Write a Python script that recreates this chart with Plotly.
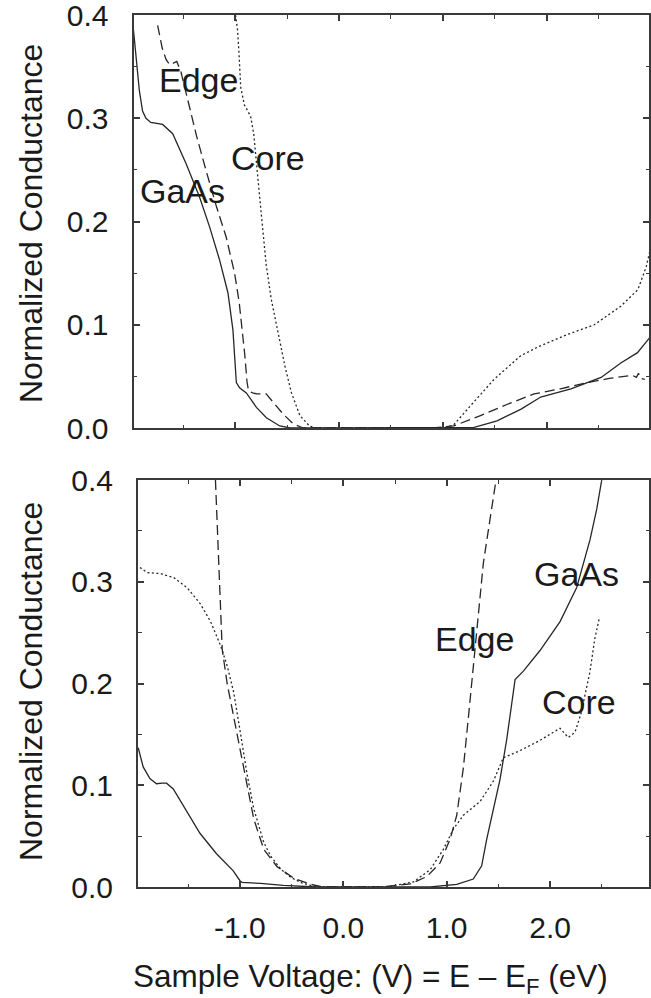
import plotly.graph_objects as go

# ---------------- data: panel (a) Sb-terminated ----------------
a_gaas_v = [-1.99, -1.953, -1.92, -1.889, -1.856, -1.81, -1.75, -1.696, -1.599, -1.47, -1.342, -1.245,
            -1.149, -1.068, -1.02, -1.0, -0.987, -0.956, -0.891, -0.794, -0.698, -0.57, -0.47, 0.0, 0.5,
            1.0, 1.30, 1.52, 1.747, 1.94, 2.23, 2.52, 2.71, 2.87, 3.0]
a_gaas_g = [0.40, 0.362, 0.327, 0.307, 0.300, 0.296, 0.295, 0.294, 0.285, 0.256, 0.224, 0.195,
            0.163, 0.131, 0.095, 0.060, 0.044, 0.039, 0.034, 0.020, 0.010, 0.002, 0.0, 0.0, 0.0,
            0.0, 0.0007, 0.007, 0.018, 0.030, 0.038, 0.049, 0.063, 0.073, 0.089]

a_edge_v = [-1.744, -1.70, -1.663, -1.63, -1.60, -1.56, -1.52, -1.45, -1.37, -1.28, -1.18, -1.085,
            -1.004, -0.96, -0.93, -0.905, -0.885, -0.87, -0.83, -0.79, -0.70, -0.633, -0.537, -0.44,
            -0.344, 0.0, 0.9, 1.103, 1.36, 1.62, 1.876, 2.13, 2.39, 2.6, 2.745, 2.82, 2.86, 2.88, 2.9, 2.94]
a_edge_g = [0.39, 0.368, 0.357, 0.352, 0.353, 0.355, 0.345, 0.315, 0.283, 0.25, 0.215, 0.185,
            0.150, 0.122, 0.095, 0.070, 0.045, 0.036, 0.034, 0.033, 0.033, 0.025, 0.0135, 0.004,
            0.0, 0.0, 0.0, 0.002, 0.012, 0.023, 0.033, 0.038, 0.044, 0.048, 0.050, 0.051, 0.049, 0.053, 0.048, 0.047]

a_core_v = [-0.995, -0.975, -0.96, -0.945, -0.91, -0.85, -0.82, -0.79, -0.75, -0.70, -0.65, -0.585,
            -0.52, -0.457, -0.376, -0.28, -0.215, 1.0, 1.103, 1.264, 1.49, 1.747, 1.924, 2.197,
            2.455, 2.71, 2.874, 2.954, 3.0]
a_core_g = [0.40, 0.385, 0.36, 0.33, 0.313, 0.302, 0.285, 0.25, 0.21, 0.158, 0.124, 0.092,
            0.060, 0.034, 0.012, 0.0016, 0.0, 0.0, 0.003, 0.0215, 0.047, 0.070, 0.079, 0.0906,
            0.100, 0.118, 0.134, 0.156, 0.176]

# ---------------- data: panel (b) As-terminated ----------------
b_gaas_v = [-1.983, -1.935, -1.870, -1.806, -1.75, -1.709, -1.644, -1.515, -1.386, -1.226, -1.064, -0.999,
            -0.98, -0.80, -0.58, -0.26, 0.84, 1.097, 1.257, 1.338, 1.387, 1.451, 1.515, 1.58, 1.661,
            1.741, 1.902, 2.096, 2.257, 2.386, 2.451, 2.499]
b_gaas_g = [0.137, 0.118, 0.1065, 0.1015, 0.102, 0.102, 0.0964, 0.0746, 0.0528, 0.0327, 0.0159, 0.0062,
            0.0046, 0.0035, 0.0015, 0.0, 0.0, 0.0026, 0.0078, 0.0208, 0.047, 0.0763, 0.1056, 0.1447, 0.2038,
            0.2122, 0.2324, 0.2608, 0.2944, 0.3414, 0.3716, 0.40]

b_edge_v = [-1.236, -1.203, -1.171, -1.123, -1.059, -0.994, -0.93, -0.866, -0.769, -0.64, -0.48, -0.319,
            -0.19, 0.357, 0.647, 0.808, 0.936, 1.033, 1.097, 1.161, 1.21, 1.258, 1.306, 1.354, 1.403,
            1.451, 1.477]
b_edge_g = [0.40, 0.318, 0.234, 0.200, 0.167, 0.134, 0.100, 0.067, 0.037, 0.020, 0.0087, 0.0027,
            0.0, 0.0, 0.003, 0.0103, 0.0237, 0.047, 0.0705, 0.117, 0.167, 0.2175, 0.268, 0.318, 0.351,
            0.385, 0.40]

b_core_v = [-1.966, -1.895, -1.767, -1.638, -1.509, -1.38, -1.284, -1.188, -1.123, -1.059, -0.994, -0.93,
            -0.866, -0.769, -0.70, -0.60, -0.50, -0.40, -0.30, -0.20, 0.42, 0.679, 0.84, 0.968, 1.065,
            1.161, 1.322, 1.451, 1.547, 1.708, 1.90, 2.095, 2.175, 2.24, 2.30, 2.384, 2.432, 2.475]
b_core_g = [0.314, 0.309, 0.308, 0.304, 0.294, 0.278, 0.261, 0.2376, 0.2175, 0.191, 0.151, 0.1106,
            0.077, 0.0438, 0.030, 0.017, 0.009, 0.004, 0.001, 0.0, 0.0, 0.005, 0.017, 0.037, 0.057,
            0.0705, 0.084, 0.104, 0.127, 0.134, 0.144, 0.156, 0.147, 0.152, 0.171, 0.211, 0.244, 0.264]

x_tickvals = [-1.0, 0.0, 1.0, 2.0]
x_ticktext = ["-1.0", "0.0", "1.0", "2.0"]
x_minorvals = [-1.5, -0.5, 0.5, 1.5, 2.5]
y_tickvals = [0.0, 0.1, 0.2, 0.3, 0.4]
y_ticktext = ["0.0", "0.1", "0.2", "0.3", "0.4"]
y_minorvals = [0.05, 0.15, 0.25, 0.35]

y_title = "Normalized Conductance"
x_title = "Sample Voltage: (V) = E \u2013 E<sub>F</sub> (eV)"

# ---------------- figure ----------------
W, H = 651, 998
FONT = "Liberation Sans, Arial, sans-serif"
INK = "#1a1a1a"
LINE = "#262626"
FRAME = "#3a3a3a"

fig = go.Figure()

def add(v, g, dash, xa, ya, name):
    fig.add_trace(go.Scatter(x=v, y=g, mode="lines", name=name,
                             line=dict(color=LINE, width=1.3, dash=dash),
                             xaxis=xa, yaxis=ya, showlegend=False))

add(a_gaas_v, a_gaas_g, "solid", "x", "y", "GaAs")
add(a_edge_v, a_edge_g, "10px,5px", "x", "y", "Edge")
add(a_core_v, a_core_g, "2px,2.5px", "x", "y", "Core")
add(b_gaas_v, b_gaas_g, "solid", "x2", "y2", "GaAs")
add(b_edge_v, b_edge_g, "10px,5px", "x2", "y2", "Edge")
add(b_core_v, b_core_g, "2px,2.5px", "x2", "y2", "Core")

common_axis = dict(showline=True, linewidth=2, linecolor=FRAME, mirror="ticks",
                   ticks="inside", ticklen=6, tickwidth=1.5, tickcolor=FRAME,
                   showgrid=False, zeroline=False, ticklabeloverflow="allow",
                   tickfont=dict(size=30, color=INK, family=FONT))

xminor = dict(tickmode="array", tickvals=x_minorvals, ticks="inside", ticklen=3.5,
              tickwidth=1.3, tickcolor=FRAME, showgrid=False)
yminor = dict(tickmode="array", tickvals=y_minorvals, ticks="inside", ticklen=3.5,
              tickwidth=1.3, tickcolor=FRAME, showgrid=False)

fig.update_layout(
    width=W, height=H, margin=dict(l=0, r=0, t=0, b=0, autoexpand=False),
    paper_bgcolor="white", plot_bgcolor="white",
    font=dict(family=FONT, color=INK),
    xaxis=dict(common_axis, domain=[133.5 / W, 649 / W], range=[-1.976, 2.981], anchor="y",
               tickmode="array", tickvals=x_tickvals, showticklabels=False, minor=xminor),
    yaxis=dict(common_axis, domain=[1 - 428 / H, 1 - 15 / H], range=[0, 0.4], anchor="x",
               tickmode="array", tickvals=y_tickvals, ticktext=y_ticktext, minor=yminor,
               ticklabelstandoff=17),
    xaxis2=dict(common_axis, domain=[138 / W, 649 / W], range=[-1.985, 2.956], anchor="y2",
                tickmode="array", tickvals=x_tickvals, ticktext=x_ticktext, minor=xminor,
                ticklabelstandoff=13),
    yaxis2=dict(common_axis, domain=[1 - 887 / H, 1 - 480 / H], range=[0, 0.4], anchor="x2",
                tickmode="array", tickvals=y_tickvals, ticktext=y_ticktext, minor=yminor,
                ticklabelstandoff=17),
)

LBL = dict(size=34, color=INK, family=FONT)
ann = [
    dict(text="(a) Sb-term.", x=3.019, y=0.372, xref="x", yref="y", xanchor="right", yanchor="middle"),
    dict(text="Edge", x=-1.351, y=0.337, xref="x", yref="y", xanchor="center", yanchor="middle"),
    dict(text="Core", x=-0.6875, y=0.2615, xref="x", yref="y", xanchor="center", yanchor="middle"),
    dict(text="GaAs", x=-1.505, y=0.2295, xref="x", yref="y", xanchor="center", yanchor="middle"),
    dict(text="(b) As-term.", x=2.995, y=0.3707, xref="x2", yref="y2", xanchor="right", yanchor="middle"),
    dict(text="GaAs", x=2.257, y=0.3076, xref="x2", yref="y2", xanchor="center", yanchor="middle"),
    dict(text="Edge", x=1.264, y=0.2434, xref="x2", yref="y2", xanchor="center", yanchor="middle"),
    dict(text="Core", x=2.28, y=0.1819, xref="x2", yref="y2", xanchor="center", yanchor="middle"),
]
for a in ann:
    fig.add_annotation(showarrow=False, font=LBL, borderpad=0, **a)

TITLE = dict(size=32, color=INK, family=FONT)
fig.add_annotation(text=y_title, x=31 / W, y=1 - 224 / H, xref="paper", yref="paper",
                   textangle=-90, showarrow=False, font=TITLE, xanchor="center", yanchor="middle")
fig.add_annotation(text=y_title, x=31 / W, y=1 - 682 / H, xref="paper", yref="paper",
                   textangle=-90, showarrow=False, font=TITLE, xanchor="center", yanchor="middle")
fig.add_annotation(text=x_title, x=370 / W, y=1 - 978 / H, xref="paper", yref="paper",
                   showarrow=False, font=dict(TITLE, size=31.5), xanchor="center", yanchor="middle")

fig.write_html("out.html")
